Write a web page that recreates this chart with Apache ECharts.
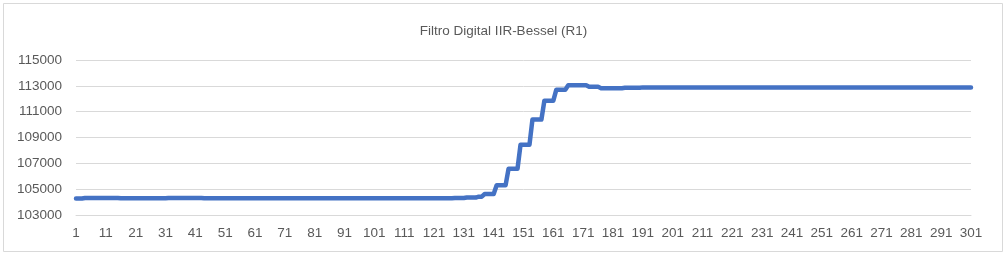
<!DOCTYPE html>
<html>
<head>
<meta charset="utf-8">
<script src="https://cdn.jsdelivr.net/npm/echarts@6/dist/echarts.min.js"></script>
<style>
html,body{margin:0;padding:0;background:#fff;}
#chart{width:1007px;height:256px;}
</style>
</head>
<body>
<div id="chart"></div>
<script>
const titleText = 'Filtro Digital IIR-Bessel (R1)';
const categories = Array.from({length: 301}, (_, i) => String(i + 1));
const yTicks = [103000, 105000, 107000, 109000, 111000, 113000, 115000];
const r1Values = [
  104280,104280,104280,104320,104320,104320,104320,104320,104320,104320,
  104320,104320,104320,104320,104320,104290,104290,104290,104290,104290,
  104290,104290,104290,104290,104290,104290,104290,104290,104290,104290,
  104290,104320,104320,104320,104320,104320,104320,104320,104320,104320,
  104320,104320,104320,104290,104290,104290,104290,104290,104290,104290,
  104290,104290,104290,104290,104290,104290,104290,104290,104290,104290,
  104290,104290,104290,104290,104290,104290,104290,104290,104290,104290,
  104290,104290,104290,104290,104290,104290,104290,104290,104290,104290,
  104290,104290,104290,104290,104290,104290,104290,104290,104290,104290,
  104290,104290,104290,104290,104290,104290,104290,104290,104290,104290,
  104290,104290,104290,104290,104290,104290,104290,104290,104290,104290,
  104290,104290,104290,104290,104290,104290,104290,104290,104290,104290,
  104290,104290,104290,104290,104290,104290,104290,104310,104310,104310,
  104310,104350,104350,104350,104350,104420,104420,104620,104620,104620,
  104620,105310,105310,105310,105310,106590,106590,106590,106590,108440,
  108440,108440,108440,110390,110390,110390,110390,111850,111850,111850,
  111850,112700,112700,112700,112700,113050,113050,113050,113050,113050,
  113050,113050,112930,112930,112930,112930,112820,112820,112820,112820,
  112820,112820,112820,112820,112850,112850,112850,112850,112850,112850,
  112880,112880,112880,112880,112880,112880,112880,112880,112880,112880,
  112880,112880,112880,112880,112880,112880,112880,112880,112880,112880,
  112880,112880,112880,112880,112880,112880,112880,112880,112880,112880,
  112880,112880,112880,112880,112880,112880,112880,112880,112880,112880,
  112880,112880,112880,112880,112880,112880,112880,112880,112880,112880,
  112880,112880,112880,112880,112880,112880,112880,112880,112880,112880,
  112880,112880,112880,112880,112880,112880,112880,112880,112880,112880,
  112880,112880,112880,112880,112880,112880,112880,112880,112880,112880,
  112880,112880,112880,112880,112880,112880,112880,112880,112880,112880,
  112880,112880,112880,112880,112880,112880,112880,112880,112880,112880,
  112880,112880,112880,112880,112880,112880,112880,112880,112880,112880,
  112880
];

const chart = echarts.init(document.getElementById('chart'), null, {renderer: 'canvas'});
const FONT = 'Liberation Sans';
chart.setOption({
  animation: false,
  backgroundColor: '#ffffff',
  graphic: [{
    type: 'rect',
    shape: {x: 3.5, y: 3.5, width: 999, height: 248},
    style: {fill: 'none', stroke: '#d9d9d9', lineWidth: 1},
    silent: true
  }],
  title: {
    text: titleText,
    left: 'center',
    top: 19,
    textStyle: {fontFamily: FONT, fontSize: 13.5, fontWeight: 'normal', color: '#595959'}
  },
  grid: {left: 76, right: 36, top: 60, bottom: 41, containLabel: false},
  xAxis: {
    type: 'category',
    data: categories,
    boundaryGap: false,
    axisLine: {show: true, lineStyle: {color: '#d9d9d9', width: 1}},
    axisTick: {show: false},
    axisLabel: {interval: 9, margin: 11, fontFamily: FONT, fontSize: 13.5, color: '#595959'},
    splitLine: {show: false}
  },
  yAxis: {
    type: 'value',
    min: yTicks[0],
    max: yTicks[yTicks.length - 1],
    interval: yTicks[1] - yTicks[0],
    axisLine: {show: false},
    axisTick: {show: false},
    axisLabel: {margin: 14, fontFamily: FONT, fontSize: 13.5, color: '#595959', formatter: (v) => String(v)},
    splitLine: {show: true, lineStyle: {color: '#d9d9d9', width: 1}}
  },
  series: [{
    type: 'line',
    name: 'R1',
    data: r1Values,
    showSymbol: false,
    symbol: 'none',
    lineStyle: {color: '#4472C4', width: 4.5, cap: 'round', join: 'round'},
    itemStyle: {color: '#4472C4'}
  }]
});
</script>
</body>
</html>
